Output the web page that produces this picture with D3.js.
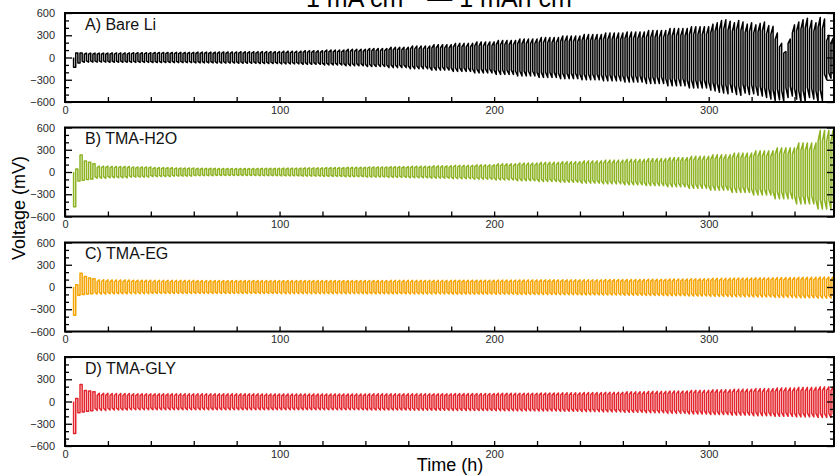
<!DOCTYPE html>
<html>
<head>
<meta charset="utf-8">
<script src="https://cdn.jsdelivr.net/npm/d3@7"></script>
<style>
  body { margin: 0; background: #fff; }
  svg { display: block; font-family: Arial, "Liberation Sans", Helvetica, sans-serif; }
</style>
</head>
<body>
<svg id="chart" width="835" height="476"></svg>
<script>
// Galvanostatic cycling of symmetric Li cells, 1 h plating / 1 h stripping per cycle.
const panelNames = ["A) Bare Li", "B) TMA-H2O", "C) TMA-EG", "D) TMA-GLY"];
const panelColors = ["#000000", "#8db323", "#f5a300", "#e3262d"];

// Overpotential (mV) per 10-h window: stripping peak (Top) and plating peak magnitude (Bot)
const aTop = [60, 60, 62, 65, 68, 70, 72, 75, 78, 80, 85, 92, 100, 110, 122, 138, 155, 172, 190, 210, 230, 250, 270, 290, 310, 330, 345, 365, 390, 415];
const aBot = [65, 62, 64, 66, 68, 70, 72, 75, 78, 82, 86, 92, 100, 110, 122, 136, 152, 170, 188, 208, 228, 248, 268, 285, 300, 315, 330, 350, 380, 410];
// Bare Li after 300 h, cycle by cycle
const aTailTop = [450, 470, 500, 510, 490, 470, 500, 480, 450, 470, 440, 460, 480, 430, 420, 330, 190, 80, 250, 440, 480, 510, 530, 500, 470, 540, 520, 300, 260];
const aTailBot = [440, 450, 470, 480, 490, 470, 500, 510, 480, 500, 490, 510, 520, 540, 560, 580, 570, 590, 540, 520, 560, 600, 590, 540, 560, 600, 580, 300, 280];

const bTop = [90, 80, 75, 68, 60, 55, 50, 48, 48, 50, 52, 56, 60, 64, 68, 72, 78, 84, 90, 98, 110, 120, 130, 140, 150, 160, 170, 180, 195, 212, 232, 255, 285, 325, 390, 560];
const bBot = [95, 85, 78, 70, 62, 56, 50, 48, 48, 50, 52, 56, 60, 64, 68, 72, 78, 84, 90, 98, 108, 118, 128, 138, 150, 160, 172, 185, 200, 220, 245, 275, 310, 360, 430, 500];

const cTop = [100, 98, 95, 92, 90, 90, 88, 88, 88, 88, 88, 88, 88, 88, 88, 90, 90, 90, 92, 92, 94, 95, 96, 97, 98, 100, 102, 105, 108, 112, 116, 120, 124, 128, 132, 135];
const cBot = [100, 95, 92, 90, 88, 88, 88, 88, 88, 88, 90, 90, 90, 90, 92, 92, 94, 94, 96, 96, 98, 100, 102, 104, 106, 108, 110, 114, 118, 122, 126, 130, 135, 140, 145, 150];

const dTop = [120, 110, 108, 105, 105, 104, 104, 103, 103, 102, 102, 102, 102, 102, 103, 103, 104, 105, 106, 108, 110, 112, 114, 117, 120, 124, 130, 136, 142, 150, 158, 166, 174, 182, 190, 198];
const dBot = [140, 120, 115, 112, 110, 110, 110, 110, 110, 110, 110, 110, 112, 112, 114, 114, 116, 118, 120, 122, 124, 126, 128, 132, 136, 140, 146, 152, 160, 168, 176, 184, 192, 200, 208, 215];

// First half-cycles (mV), starting at 4 h: nucleation dip and early spikes
const aStart = [-130, 60, -75, 60];
const bStart = [-470, 40, -120, 230, -110, 150, -100, 130, -95, 110];
const cStart = [-380, 30, -110, 185, -100, 140, -95, 120, -92, 110];
const dStart = [-430, 40, -150, 230, -140, 150, -130, 140, -125, 130];

const xTickLabels = [0, 100, 200, 300];
const yTickLabels = [-600, -300, 0, 300, 600];

const cycleStart = 4;      // h
const timeEnd = 358.4;     // h, last point on record
const binHours = 10;
const tailFrom = 300;      // h

const panels = [
  { top: aTop, bot: aBot, start: aStart, tailTop: aTailTop, tailBot: aTailBot },
  { top: bTop, bot: bBot, start: bStart },
  { top: cTop, bot: cBot, start: cStart },
  { top: dTop, bot: dBot, start: dStart }
];

const svg = d3.select("#chart");
const left = 65, right = 834;
const panelTops = [13, 127.5, 242.5, 357];
const panelH = 89;
const labelFont = "Arial, 'Liberation Sans', sans-serif";

const x = d3.scaleLinear().domain([0, timeEnd]).range([left, right]);

// Title (current density and areal capacity)
const title = svg.append("text")
  .attr("x", 306).attr("y", 7)
  .attr("font-size", 25).attr("fill", "#000");
title.append("tspan").text("1 mA cm");
title.append("tspan").attr("dy", -9).attr("font-size", 15).text("\u22122");
title.append("tspan").attr("dy", 9).text(" \u2014 1 mAh cm");
title.append("tspan").attr("dy", -9).attr("font-size", 15).text("\u22122");

// Voltage trace: each half-cycle jumps in, then drifts up to its peak value
function trace(p) {
  const pts = [[cycleStart, 0]];
  for (let h = 0; cycleStart + h < timeEnd; h++) {
    const t0 = cycleStart + h;
    let v;
    if (h < p.start.length) {
      v = p.start[h];
    } else {
      const cyc = Math.floor(h / 2);
      const tc = cycleStart + 2 * cyc;
      const plating = h % 2 === 0;
      if (p.tailTop && tc >= tailFrom) {
        const k = Math.min(Math.floor((tc - tailFrom) / 2), p.tailTop.length - 1);
        v = plating ? -p.tailBot[k] : p.tailTop[k];
      } else {
        const b = Math.min(Math.floor(t0 / binHours), p.top.length - 1);
        v = plating ? -p.bot[b] : p.top[b];
      }
    }
    const t1 = Math.min(t0 + 1, timeEnd);
    if (h < p.start.length) {
      pts.push([t0, v], [t1, v]);
    } else {
      pts.push([t0, 0.75 * v], [t0 + 0.6, 0.9 * v], [t1, v]);
    }
  }
  return pts;
}

panels.forEach((p, i) => {
  const y0 = panelTops[i];
  const y = d3.scaleLinear().domain([-600, 600]).range([y0 + panelH, y0]);
  const g = svg.append("g");

  const clipId = "clip" + i;
  svg.append("clipPath").attr("id", clipId)
    .append("rect").attr("x", left).attr("y", y0).attr("width", right - left).attr("height", panelH);

  const line = d3.line().x(d => x(d[0])).y(d => y(d[1]));
  g.append("path")
    .attr("clip-path", `url(#${clipId})`)
    .attr("d", line(trace(p)))
    .attr("fill", "none")
    .attr("stroke", panelColors[i])
    .attr("stroke-width", 1.5)
    .attr("stroke-linejoin", "round");

  // Bottom axis: ticks every 20 h pointing inward, labels every 100 h
  const xAxis = d3.axisBottom(x)
    .tickValues(d3.range(0, timeEnd, 20))
    .tickSize(-5).tickPadding(4)
    .tickFormat(d => xTickLabels.includes(d) ? d : "");
  const gx = g.append("g").attr("transform", `translate(0,${y0 + panelH})`).call(xAxis);
  gx.select(".domain").remove();
  gx.selectAll("line").attr("stroke", "#000").attr("stroke-width", 1.3);
  gx.selectAll("text").attr("font-size", 11).attr("fill", "#2a2a2a").attr("font-family", labelFont);

  // Left and right axes: minor ticks every 100 mV, labelled every 300 mV
  const minor = d3.range(-500, 600, 100).filter(v => !yTickLabels.includes(v));
  const yAxisL = d3.axisLeft(y).tickValues(yTickLabels).tickSize(-7).tickPadding(10);
  const gl = g.append("g").attr("transform", `translate(${left},0)`).call(yAxisL);
  gl.select(".domain").remove();
  gl.selectAll("line").attr("stroke", "#000").attr("stroke-width", 1.3);
  gl.selectAll("text").attr("font-size", 11).attr("fill", "#2a2a2a").attr("font-family", labelFont);
  const glm = g.append("g").attr("transform", `translate(${left},0)`)
    .call(d3.axisLeft(y).tickValues(minor).tickSize(-4).tickFormat(""));
  glm.select(".domain").remove();
  glm.selectAll("line").attr("stroke", "#000").attr("stroke-width", 1.3);

  const gr = g.append("g").attr("transform", `translate(${right},0)`)
    .call(d3.axisRight(y).tickValues(yTickLabels).tickSize(-7).tickFormat(""));
  gr.select(".domain").remove();
  gr.selectAll("line").attr("stroke", "#000").attr("stroke-width", 1.3);
  const grm = g.append("g").attr("transform", `translate(${right},0)`)
    .call(d3.axisRight(y).tickValues(minor).tickSize(-4).tickFormat(""));
  grm.select(".domain").remove();
  grm.selectAll("line").attr("stroke", "#000").attr("stroke-width", 1.3);

  // Frame
  g.append("rect")
    .attr("x", left).attr("y", y0).attr("width", right - left).attr("height", panelH)
    .attr("fill", "none").attr("stroke", "#000").attr("stroke-width", 2);

  // Panel label
  g.append("text")
    .attr("x", 85).attr("y", y0 + 16.5)
    .attr("font-size", 16).attr("fill", "#111")
    .text(panelNames[i]);
});

// Axis titles
svg.append("text")
  .attr("transform", "translate(25,208) rotate(-90)")
  .attr("text-anchor", "middle").attr("font-size", 18).attr("fill", "#000")
  .text("Voltage (mV)");
svg.append("text")
  .attr("x", 450).attr("y", 471)
  .attr("text-anchor", "middle").attr("font-size", 18).attr("fill", "#000")
  .text("Time (h)");
</script>
</body>
</html>
